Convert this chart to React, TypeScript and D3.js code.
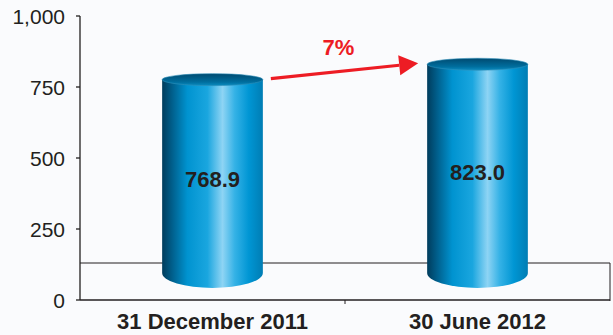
import React from "react";
import * as d3 from "d3";

const categories = ["31 December 2011", "30 June 2012"];
const values = [768.9, 823.0];
const valueLabels = ["768.9", "823.0"];
const yTicks = [0, 250, 500, 750, 1000];
const changeLabel = "7%";

const W = 613;
const H = 335;
const left = 80;
const right = 610;
const y0px = 300;
const y1px = 16;
const depth = 27;

export default function App() {
  const x = d3.scaleBand<string>().domain(categories).range([left, right]).paddingInner(0.62).paddingOuter(0.31);
  const y = d3.scaleLinear().domain([0, 1000]).range([y0px, y1px]);
  const fmt = d3.format(",");
  const bw = x.bandwidth();
  const baseY = y(0) - depth;
  const textColor = "#231f20";

  const bars = categories.map((c, i) => {
    const cx = (x(c) as number) + bw / 2;
    const topY = y(values[i]) - 2;
    const rxv = bw / 2;
    const ryTop = 6;
    const ryBot = 15;
    const side = `M${cx - rxv},${topY} L${cx - rxv},${baseY} A${rxv},${ryBot} 0 0 0 ${cx + rxv},${baseY} L${cx + rxv},${topY} Z`;
    return { c, cx, topY, rxv, ryTop, ryBot, side, i };
  });

  const a0 = bars[0];
  const a1 = bars[1];
  const ax0 = a0.cx + a0.rxv + 8;
  const ay0 = a0.topY - 1;
  const ax1 = a1.cx - a1.rxv - 9;
  const ay1 = a1.topY - 1;
  const ang = Math.atan2(ay1 - ay0, ax1 - ax0);
  const headL = 19;
  const headW = 10;
  const bx = ax1 - headL * Math.cos(ang);
  const by = ay1 - headL * Math.sin(ang);
  const px = -Math.sin(ang);
  const py = Math.cos(ang);
  const head = `M${ax1},${ay1} L${bx + px * headW},${by + py * headW} L${bx - px * headW},${by - py * headW} Z`;

  return (
    <svg width={W} height={H} style={{ position: "absolute", left: 0, top: 0, background: "#fafbfd" }} fontFamily="Arial, 'Liberation Sans', sans-serif">
      <defs>
        <linearGradient id="side" x1="0" x2="1" y1="0" y2="0">
          <stop offset="0" stopColor="#003c5c" />
          <stop offset="0.1" stopColor="#005f8c" />
          <stop offset="0.25" stopColor="#0093d0" />
          <stop offset="0.45" stopColor="#1aa6df" />
          <stop offset="0.6" stopColor="#8ed4f4" />
          <stop offset="0.72" stopColor="#35b2e6" />
          <stop offset="0.86" stopColor="#0096d4" />
          <stop offset="1" stopColor="#007db4" />
        </linearGradient>
        <linearGradient id="top" x1="0" x2="0" y1="0" y2="1">
          <stop offset="0" stopColor="#004a70" />
          <stop offset="0.7" stopColor="#006e9e" />
          <stop offset="1" stopColor="#0a8bbf" />
        </linearGradient>
      </defs>
      <line x1={left} x2={right} y1={baseY - 10} y2={baseY - 10} stroke={textColor} strokeWidth={1} />
      <line x1={right} x2={right} y1={baseY - 10} y2={y0px + 1} stroke={textColor} strokeWidth={1} />
      <line x1={left} x2={right} y1={y0px} y2={y0px} stroke={textColor} strokeWidth={1.3} />
      <line x1={(left + right) / 2} x2={(left + right) / 2} y1={y0px} y2={y0px + 4} stroke={textColor} strokeWidth={1} />
      <line x1={left} x2={left} y1={y1px} y2={y0px} stroke={textColor} strokeWidth={1.3} />
      {yTicks.map((t) => (
        <g key={t}>
          <line x1={left - 4} x2={left} y1={y(t)} y2={y(t)} stroke={textColor} strokeWidth={1.3} />
          <text x={left - 15} y={y(t)} dy="0.36em" textAnchor="end" fontSize={21} fill={textColor}>
            {fmt(t)}
          </text>
        </g>
      ))}
      {bars.map((b) => (
        <g key={b.c}>
          <path d={b.side} fill="url(#side)" />
          <ellipse cx={b.cx} cy={b.topY} rx={b.rxv} ry={b.ryTop} fill="url(#top)" stroke="#2f8fb8" strokeWidth={0.6} />
          <text x={b.cx} y={(b.topY + baseY) / 2 + 3} dy="0.36em" textAnchor="middle" fontSize={22} fontWeight="bold" fill={textColor}>
            {valueLabels[b.i]}
          </text>
          <text x={b.cx} y={y0px + 29} textAnchor="middle" fontSize={22} fontWeight="bold" fill={textColor}>
            {b.c}
          </text>
        </g>
      ))}
      <line x1={ax0} y1={ay0} x2={bx} y2={by} stroke="#ed1c24" strokeWidth={3.2} />
      <path d={head} fill="#ed1c24" />
      <text x={(ax0 + ax1) / 2 - 6} y={55} textAnchor="middle" fontSize={22} fontWeight="bold" fill="#ed1c24">
        {changeLabel}
      </text>
    </svg>
  );
}
